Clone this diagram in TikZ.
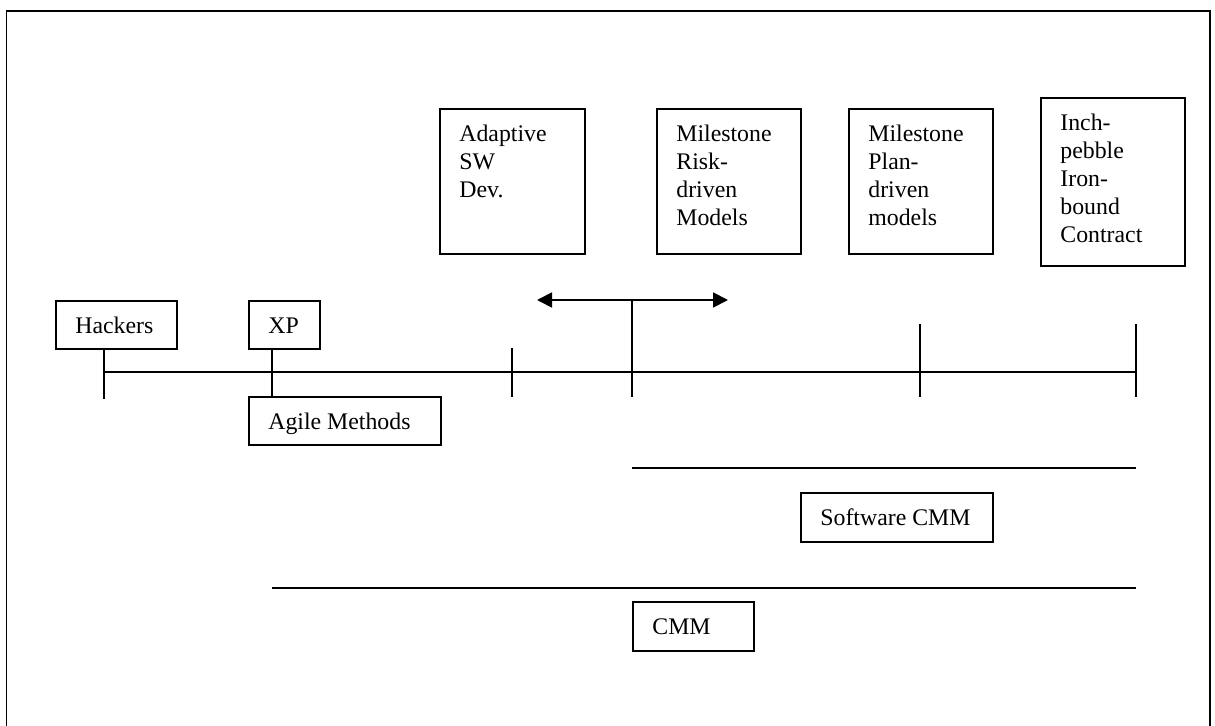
\documentclass[tikz,border=0pt]{standalone}
\usepackage{fontspec}
\setmainfont{Liberation Serif}
\usetikzlibrary{arrows.meta}

\tikzset{
  ln/.style={line width=0.9pt, black},
  tbox/.style={draw, ln, rectangle, anchor=north west, inner sep=0pt},
  lbl/.style={anchor=north west, inner sep=0pt, xshift=10pt, yshift=-6.7pt,
              align=left, font=\fontsize{11.9}{14}\selectfont},
  twohead/.style={ln, {Triangle[length=7.5pt,width=7.5pt]}-{Triangle[length=7.5pt,width=7.5pt]}},
}

\begin{document}
\begin{tikzpicture}[x=0.5pt, y=-0.5pt]
\useasboundingbox (0,0) rectangle (1215,726);

% outer frame (runs past the lower page edge)
\draw[ln] (6.5,727) -- (6.5,11) -- (1210,11) -- (1210,727);

% upper row of method boxes
\node[tbox, minimum width=72.5pt, minimum height=72.5pt,
      label={[lbl]north west:{\strut Adaptive\\SW\\Dev.}}] (adapt) at (439,108) {};
\node[tbox, minimum width=72pt, minimum height=72.5pt,
      label={[lbl]north west:{\strut Milestone\\Risk-\\driven\\Models}}] (risk) at (656,108) {};
\node[tbox, minimum width=72pt, minimum height=72.5pt,
      label={[lbl]north west:{\strut Milestone\\Plan-\\driven\\models}}] (plan) at (848,108) {};
\node[tbox, minimum width=72pt, minimum height=84pt,
      label={[lbl]north west:{\strut Inch-\\pebble\\Iron-\\bound\\Contract}}] (inch) at (1040,97) {};

% boxes along the scale
\node[tbox, minimum width=60.5pt, minimum height=24pt,
      label={[lbl]north west:{\strut Hackers}}] (hack) at (55,300) {};
\node[tbox, minimum width=35.5pt, minimum height=24pt,
      label={[lbl]north west:{\strut XP}}] (xp) at (248,300) {};
\node[tbox, minimum width=96pt, minimum height=24pt,
      label={[lbl]north west:{\strut Agile Methods}}] (agile) at (248,396) {};
\node[tbox, minimum width=96pt, minimum height=24.5pt,
      label={[lbl]north west:{\strut Software CMM}}] (swcmm) at (800,492) {};
\node[tbox, minimum width=60.5pt, minimum height=24.5pt,
      label={[lbl]north west:{\strut CMM}}] (cmm) at (632,601) {};

% the scale itself
\coordinate (tlA) at (104,372);
\coordinate (tlB) at (1136,372);
\draw[ln] (tlA) -- (tlB);

% tick marks
\coordinate (tk3) at (512,348);
\coordinate (tk5) at (920,324);
\coordinate (tk6) at (1136,324);
\draw[ln] (hack.south -| tlA) -- ++(0,49);
\draw[ln] (xp.south -| agile.north west) ++(24,0) coordinate (xpt) -- (xpt |- agile.north);
\draw[ln] (tk3) -- ++(0,49);
\draw[ln] (tk5) -- ++(0,73);
\draw[ln] (tk6) -- ++(0,73);

% two-headed range arrow on its stem
\coordinate (arL) at (537,300);
\coordinate (arR) at (728,300);
\coordinate (arM) at (632,300);
\draw[twohead] (arL) -- (arR);
\draw[ln] (arM) -- ++(0,97);

% spans of the maturity models
\coordinate (swA) at (632,468);
\coordinate (swB) at (1136,468);
\draw[ln] (swA) -- (swB);
\coordinate (cmA) at (272,588);
\coordinate (cmB) at (1136,588);
\draw[ln] (cmA) -- (cmB);
\end{tikzpicture}
\end{document}
